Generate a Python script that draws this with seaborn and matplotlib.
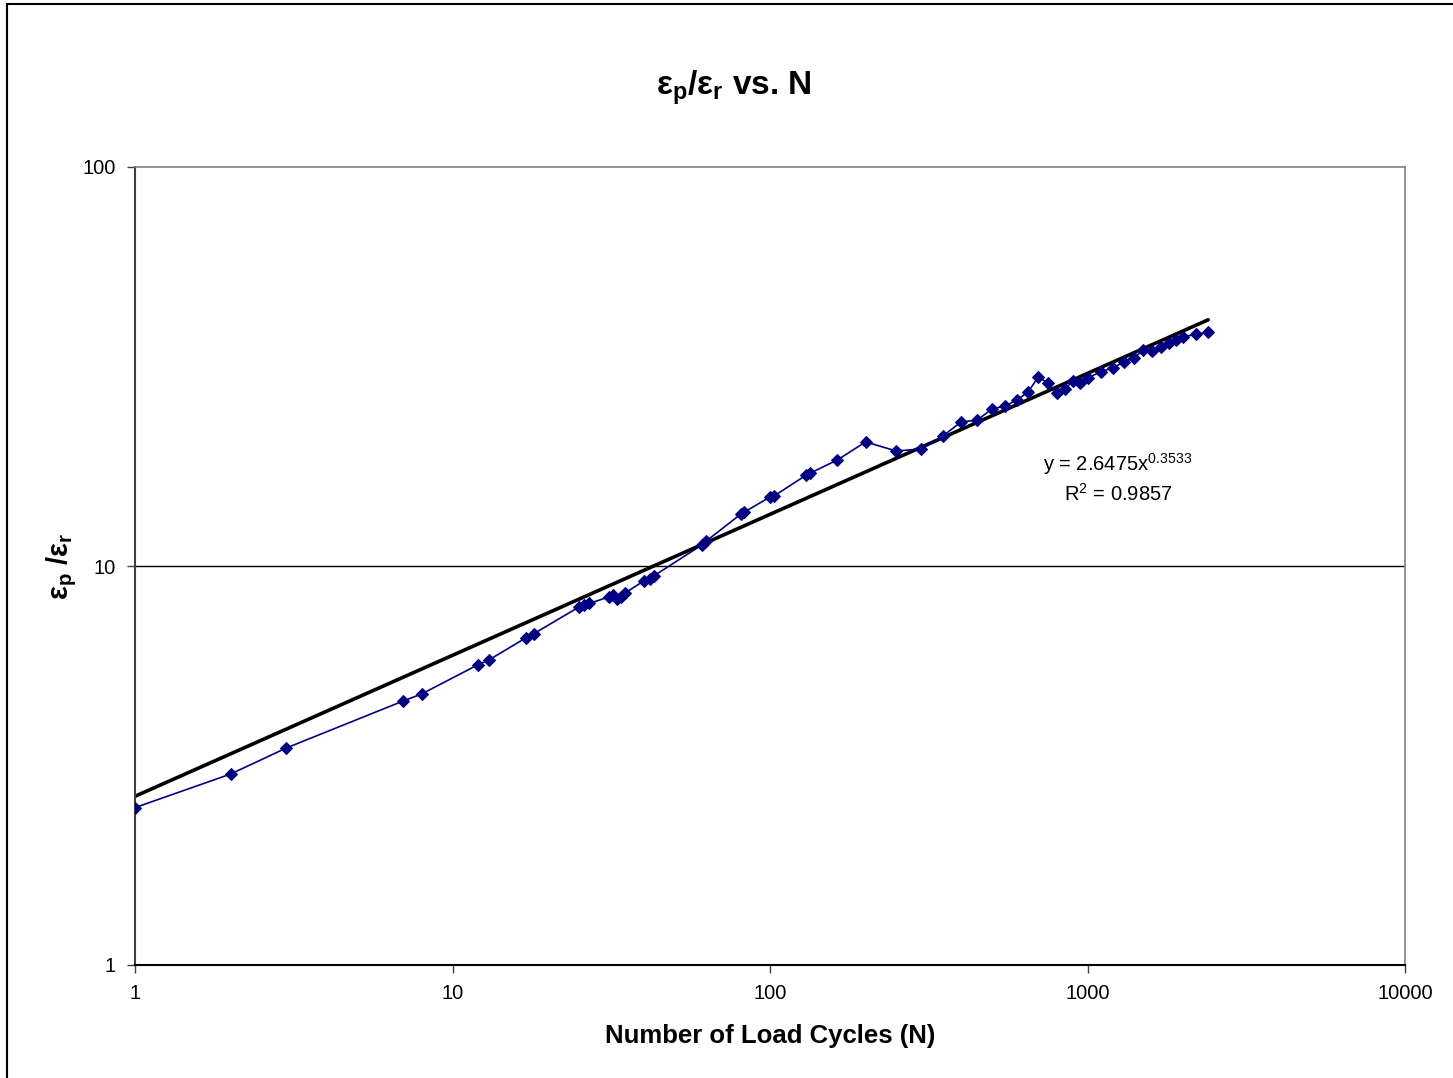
import numpy as np
import pandas as pd
import seaborn as sns
import matplotlib
matplotlib.use("Agg")
import matplotlib.pyplot as plt
from matplotlib.patches import Rectangle
from matplotlib.ticker import FixedLocator, FixedFormatter, NullLocator

# ---- data ----
cycles = [1, 2, 3, 7, 8, 12, 13, 17, 18, 25, 26, 27, 31, 32, 33, 34, 35, 40, 42, 43,
          61, 63, 81, 83, 100, 103, 130, 134, 163, 200, 250, 300, 350, 400, 450, 500,
          550, 600, 650, 700, 750, 800, 850, 900, 950, 1000, 1100, 1200, 1300, 1400,
          1500, 1600, 1700, 1800, 1900, 2000, 2200, 2400]
strain_ratio = [2.48, 3.01, 3.50, 4.59, 4.78, 5.65, 5.81, 6.60, 6.76, 7.89, 7.97, 8.06,
                8.36, 8.46, 8.27, 8.36, 8.56, 9.17, 9.28, 9.44,
                11.29, 11.55, 13.50, 13.65, 14.89, 14.98, 16.9, 17.1, 18.44, 20.46,
                19.42, 19.65, 21.17, 22.96, 23.22, 24.75, 25.18, 26.07, 27.3, 29.77,
                28.75, 27.14, 27.77, 29.09, 28.75, 29.6, 30.64, 31.35, 32.45, 33.2,
                34.78, 34.6, 35.4, 36.2, 36.86, 37.5, 38.1, 38.6]
fit_coef = 2.6475
fit_exp = 0.3533
fit_r2 = 0.9857
x_ticks = [1, 10, 100, 1000, 10000]
x_tick_labels = ["1", "10", "100", "1000", "10000"]
y_ticks = [1, 10, 100]
y_tick_labels = ["1", "10", "100"]

df = pd.DataFrame({"N": cycles, "ratio": strain_ratio})
fit_n = np.array([min(cycles), max(cycles)], dtype=float)
fit_df = pd.DataFrame({"N": fit_n, "ratio": fit_coef * fit_n ** fit_exp})

# ---- style ----
sns.set_theme(style="white")
plt.rcParams["font.family"] = ["Liberation Sans", "DejaVu Sans"]
plt.rcParams["mathtext.fontset"] = "custom"
plt.rcParams["mathtext.rm"] = "Liberation Sans"
plt.rcParams["mathtext.it"] = "Liberation Sans"
plt.rcParams["mathtext.bf"] = "Liberation Sans:bold"
plt.rcParams["text.color"] = "black"
plt.rcParams["axes.labelcolor"] = "black"

fig = plt.figure(figsize=(14.53, 10.78), dpi=100)
W, H = 1453, 1078
ax = fig.add_axes([135 / W, 1 - 965 / H, (1405 - 135) / W, (965 - 167) / H])

ax.set_xscale("log")
ax.set_yscale("log")

sns.lineplot(data=fit_df, x="N", y="ratio", ax=ax, color="black", linewidth=2.6,
             zorder=2)
sns.lineplot(data=df, x="N", y="ratio", ax=ax, color="#000080", linewidth=1.2,
             marker="D", markersize=6.5, markeredgecolor="#000080",
             markerfacecolor="#000080", zorder=3)

ax.set_xlim(1, 10000)
ax.set_ylim(1, 100)

ax.xaxis.set_major_locator(FixedLocator(x_ticks))
ax.xaxis.set_major_formatter(FixedFormatter(x_tick_labels))
ax.yaxis.set_major_locator(FixedLocator(y_ticks))
ax.yaxis.set_major_formatter(FixedFormatter(y_tick_labels))
ax.xaxis.set_minor_locator(NullLocator())
ax.yaxis.set_minor_locator(NullLocator())

ax.tick_params(axis="both", which="major", direction="out", length=6, width=1,
               color="#404040", labelsize=14.5, labelcolor="black", pad=8,
               bottom=True, left=True)

ax.grid(False)
ax.axhline(10, color="black", linewidth=1, zorder=1)

for side in ["top", "right"]:
    ax.spines[side].set_color("#808080")
    ax.spines[side].set_linewidth(1.2)
ax.spines["left"].set_color("#404040")
ax.spines["left"].set_linewidth(1.5)
ax.spines["bottom"].set_color("black")
ax.spines["bottom"].set_linewidth(1.5)

ax.set_xlabel("Number of Load Cycles (N)", fontsize=18.5, fontweight="bold",
              labelpad=15, color="black")
ax.set_ylabel(r"$\mathbf{ε_p}$ /$\mathbf{ε_r}$", fontsize=21, fontweight="bold",
              labelpad=2, color="black")

fig.text(734 / W, 1 - 88 / H, r"$\mathbf{ε_p/ε_r}$ vs. N", fontsize=24,
         fontweight="bold", ha="center", va="center", color="black")

ax.text(1118 / W, 1 - 464 / H, f"y = {fit_coef}x$^{{{fit_exp}}}$",
        transform=fig.transFigure, fontsize=14.5, ha="center", va="center",
        color="black")
ax.text(1118 / W, 1 - 494 / H, f"R$^{{2}}$ = {fit_r2}",
        transform=fig.transFigure, fontsize=14.5, ha="center", va="center",
        color="black")

# outer chart border
fig.patches.append(Rectangle((7 / W, -0.01), 1.1, 1 - 4 / H + 0.01,
                             transform=fig.transFigure, fill=False,
                             edgecolor="black", linewidth=1.5))

fig.savefig("out.png", dpi=100)
